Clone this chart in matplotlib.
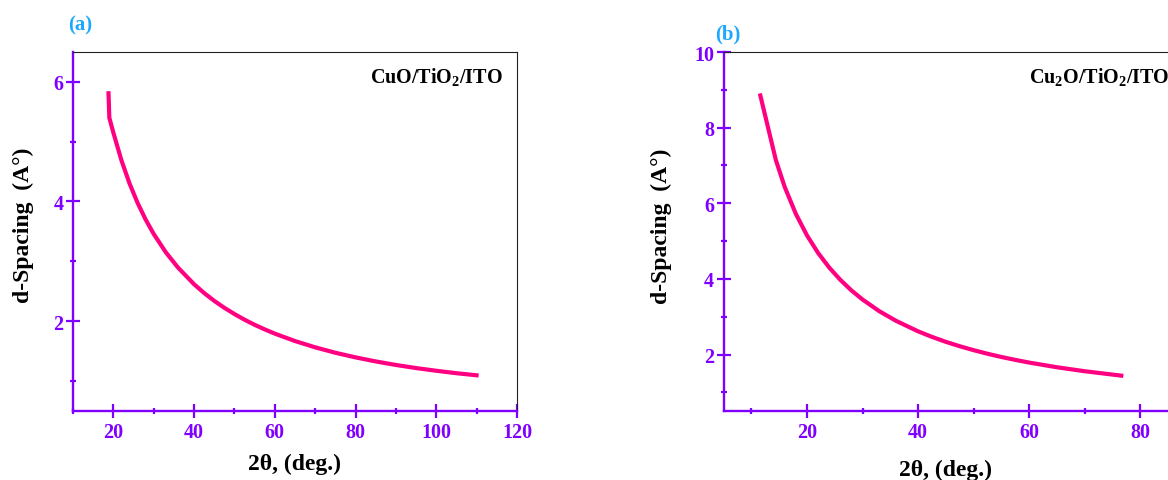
import matplotlib
matplotlib.use("Agg")
import matplotlib.pyplot as plt
from matplotlib.ticker import MultipleLocator

plt.rcParams['font.family'] = ['Liberation Serif', 'DejaVu Serif']
plt.rcParams['font.weight'] = 'bold'
plt.rcParams['mathtext.fontset'] = 'custom'
plt.rcParams['mathtext.rm'] = 'Liberation Serif:bold'
plt.rcParams['mathtext.bf'] = 'Liberation Serif:bold'
plt.rcParams['mathtext.default'] = 'bf'

# d-spacing vs 2theta for the two films
two_theta_a = [18.8, 19.0, 20, 22, 24, 26, 28, 30, 33, 36, 40, 42.5, 45, 47.5,
               50, 52.5, 55, 57.5, 60, 65, 70, 75, 80, 85, 90, 95, 100, 105, 110]
d_a = [5.81, 5.40, 5.151, 4.688, 4.302, 3.976, 3.697, 3.456, 3.149, 2.895,
       2.615, 2.468, 2.337, 2.221, 2.117, 2.022, 1.937, 1.860, 1.789, 1.665,
       1.560, 1.469, 1.392, 1.324, 1.265, 1.213, 1.168, 1.127, 1.092]

two_theta_b = [11.6, 14.4, 16, 18, 20, 22, 24, 26, 28, 30, 33, 36, 40, 42.5,
               45, 47.5, 50, 52.5, 55, 57.5, 60, 65, 70, 76.6]
d_b = [8.85, 7.14, 6.427, 5.718, 5.151, 4.688, 4.302, 3.976, 3.697, 3.456,
       3.149, 2.895, 2.615, 2.468, 2.337, 2.221, 2.117, 2.022, 1.937, 1.860,
       1.789, 1.665, 1.560, 1.443]

purple = '#8000ff'
pink = '#ff0080'
blue = '#1ea7ff'

fig = plt.figure(figsize=(11.68, 4.81), dpi=100)
ax_a = fig.add_axes([0.0625, 0.1441, 0.3801, 0.7457])
ax_b = fig.add_axes([0.6196, 0.1428, 0.4041, 0.7470])


def style_axes(ax, xlim, ylim, xmaj, ymaj, ylab_x, xlab_y, xlab_x=0.5):
    ax.set_xlim(*xlim)
    ax.set_ylim(*ylim)
    ax.xaxis.set_major_locator(MultipleLocator(xmaj))
    ax.xaxis.set_minor_locator(MultipleLocator(xmaj / 2))
    ax.yaxis.set_major_locator(MultipleLocator(ymaj))
    ax.yaxis.set_minor_locator(MultipleLocator(ymaj / 2))
    for side in ['left', 'bottom']:
        ax.spines[side].set_color(purple)
        ax.spines[side].set_linewidth(1.7)
    for side in ['top', 'right']:
        ax.spines[side].set_color('#222222')
        ax.spines[side].set_linewidth(0.8)
    ax.tick_params(which='major', direction='inout', length=10, width=1.6,
                   color=purple, labelcolor=purple, labelsize=14.5)
    ax.tick_params(which='minor', direction='inout', length=5, width=1.6,
                   color=purple)
    ax.tick_params(axis='x', pad=3)
    ax.tick_params(axis='y', pad=2)
    for lab in ax.get_xticklabels() + ax.get_yticklabels():
        lab.set_fontweight('bold')
    ax.set_xlabel('2θ, (deg.)', fontsize=17, fontweight='bold')
    ax.set_ylabel('d-Spacing  (A°)', fontsize=17, fontweight='bold')
    ax.xaxis.set_label_coords(xlab_x, xlab_y)
    ax.yaxis.set_label_coords(ylab_x, 0.519)


style_axes(ax_a, (10, 120), (0.5, 6.5), 20, 2, -0.088, -0.118)
style_axes(ax_b, (5, 90), (0.5, 10), 20, 2, -0.1095, -0.132, 0.469)

ax_a.plot(two_theta_a, d_a, color=pink, lw=3)
ax_b.plot(two_theta_b, d_b, color=pink, lw=3)

ax_a.text(0.968, 0.965, 'CuO/TiO$_2$/ITO', transform=ax_a.transAxes,
          ha='right', va='top', fontsize=14.5, fontweight='bold')
ax_b.text(0.9456, 0.965, 'Cu$_2$O/TiO$_2$/ITO', transform=ax_b.transAxes,
          ha='right', va='top', fontsize=14.5, fontweight='bold')

fig.text(80 / 1168, 1 - 25 / 481, '(a)', color=blue, fontsize=15,
         fontweight='bold', ha='center', va='center')
fig.text(728 / 1168, 1 - 34 / 481, '(b)', color=blue, fontsize=15,
         fontweight='bold', ha='center', va='center')

fig.savefig('out.png', dpi=100)
